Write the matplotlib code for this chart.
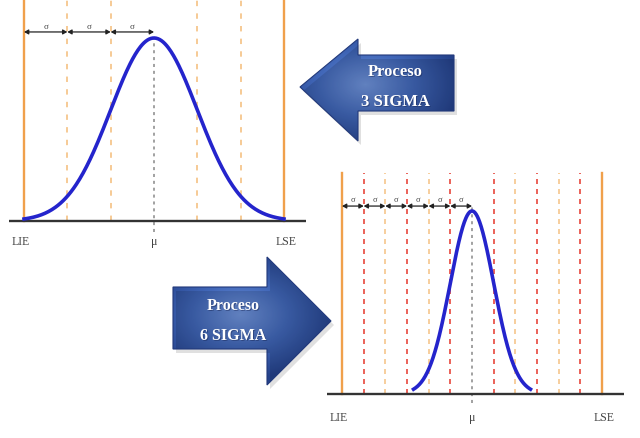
#!/usr/bin/env python3
import numpy as np
import matplotlib
matplotlib.use("Agg")
import matplotlib.pyplot as plt
from matplotlib.patches import Polygon

# spec limits, in tolerance units (both panels share them)
LIE, LSE = -3.0, 3.0
# sigma of each process in the same units
SIGMA_3 = 1.0   # proceso 3 sigma -> limits at +-3 sigma
SIGMA_6 = 0.5   # proceso 6 sigma -> limits at +-6 sigma
# dashed guide lines, in multiples of sigma
GUIDES_3 = [-2, -1, 1, 2]
GUIDES_6_RED = [-5, -3, -1, 1, 3, 5]
GUIDES_6_LIGHT = [-4, -2, 2, 4]
# sigma steps marked with arrows (from LIE to the mean)
STEPS_3 = [-3, -2, -1, 0]
STEPS_6 = [-6, -5, -4, -3, -2, -1, 0]
# curve drawn out to +- this many sigma
CURVE_SPAN_3 = 3.0
CURVE_SPAN_6 = 2.7
AXIS_LABELS = ["LIE", "\u03bc", "LSE"]
ARROW_TEXT_3 = ["Proceso", "3 SIGMA"]
ARROW_TEXT_6 = ["Proceso", "6 SIGMA"]

W, H = 640, 439
SX, SY = 43.33, 183.0          # px per unit
XLIM = (-3.35, 3.5)
YLIM = (-0.24, 1.22)

ORANGE = "#f0a04b"
LIGHT = "#f6c68c"
RED = "#e8473c"
BLUE = "#2424cc"
SERIF = ["Liberation Serif", "DejaVu Serif"]

fig = plt.figure(figsize=(W / 100, H / 100), dpi=100)


def panel(mu_px, base_px):
    left = mu_px + XLIM[0] * SX
    top = base_px - YLIM[1] * SY
    w = (XLIM[1] - XLIM[0]) * SX
    h = (YLIM[1] - YLIM[0]) * SY
    ax = fig.add_axes([left / W, 1 - (top + h) / H, w / W, h / H])
    ax.set_xlim(*XLIM)
    ax.set_ylim(*YLIM)
    ax.axis("off")
    return ax


def draw_steps(ax, steps, sigma, y, ytxt, fs):
    for a, b in zip(steps[:-1], steps[1:]):
        ax.annotate("", xy=(b * sigma, y), xytext=(a * sigma, y),
                    arrowprops=dict(arrowstyle="<|-|>,head_length=0.25,head_width=0.14",
                                    color="#222222", lw=0.9, shrinkA=0, shrinkB=0))
        ax.text((a + b) / 2 * sigma, ytxt, "\u03c3", ha="center", va="bottom",
                fontsize=fs, color="#444444", family=SERIF)


def draw_common(ax, sigma, span, y_line_top, center_top, center_bot, ylab):
    ax.plot([LIE, LIE], [0, y_line_top], color=ORANGE, lw=1.7, zorder=2)
    ax.plot([LSE, LSE], [0, y_line_top], color=ORANGE, lw=1.7, zorder=2)
    ax.plot([0, 0], [center_bot, center_top], color="#888888", lw=1.1,
            ls=(0, (2, 2.5)), zorder=2)
    x = np.linspace(-span * sigma, span * sigma, 300)
    ax.plot(x, np.exp(-0.5 * (x / sigma) ** 2), color=BLUE, lw=2.6, zorder=4)
    ax.plot([XLIM[0], XLIM[1] - 0.02], [0, 0], color="#333333", lw=1.7, zorder=3)
    for xx, lab in zip([LIE - 0.08, 0, LSE + 0.05], AXIS_LABELS):
        ax.text(xx, ylab, lab, ha="center", va="center", fontsize=8.5,
                color="#444444", family=SERIF)


# --- proceso 3 sigma (top left) ---
ax1 = panel(154, 222)
for k in GUIDES_3:
    ax1.plot([k * SIGMA_3] * 2, [0, 1.22], color=LIGHT, lw=1.3, ls=(0, (3, 4)), zorder=1)
draw_common(ax1, SIGMA_3, CURVE_SPAN_3, 1.22, 1.0, -0.06, -0.11)
draw_steps(ax1, STEPS_3, SIGMA_3, 1.033, 1.045, 6.5)

# --- proceso 6 sigma (bottom right) ---
ax2 = panel(472, 395)
for k in GUIDES_6_RED:
    ax2.plot([k * SIGMA_6] * 2, [0, 1.21], color=RED, lw=1.2, ls=(0, (3, 3)), zorder=1)
for k in GUIDES_6_LIGHT:
    ax2.plot([k * SIGMA_6] * 2, [0, 1.21], color=LIGHT, lw=1.2, ls=(0, (3, 3)), zorder=1)
draw_common(ax2, SIGMA_6, CURVE_SPAN_6, 1.21, 1.02, -0.05, -0.125)
draw_steps(ax2, STEPS_6, SIGMA_6, 1.027, 1.045, 6)

# --- block arrows (pixel coordinates) ---
ov = fig.add_axes([0, 0, 1, 1], zorder=-1)
ov.set_xlim(0, W)
ov.set_ylim(H, 0)
ov.axis("off")

yy, xx = np.mgrid[0:H, 0:W]
cmap = matplotlib.colors.LinearSegmentedColormap.from_list(
    "bl", ["#6f93da", "#4167b8", "#24418a"])


def block_arrow(pts, cx, cy, text, tx, ty, fs):
    shadow = Polygon(np.array(pts) + [3, 4], closed=True, fc="#000000", alpha=0.12, ec="none")
    ov.add_patch(shadow)
    poly = Polygon(pts, closed=True, fc="none", ec="#22397a", lw=0.8)
    ov.add_patch(poly)
    r = np.sqrt(((xx - cx) / 95.0) ** 2 + ((yy - cy) / 65.0) ** 2)
    im = ov.imshow(np.clip(r, 0, 1), cmap=cmap, extent=(0, W, H, 0),
                   vmin=0, vmax=1, interpolation="bilinear")
    im.set_clip_path(poly)
    for i, t in enumerate(text):
        ov.text(tx + 1, ty + i * 30 + 1, t, ha="center", va="center", color="#1a2a5a",
                alpha=0.5, fontsize=fs, fontweight="bold", family=SERIF)
        ov.text(tx, ty + i * 30, t, ha="center", va="center", color="white",
                fontsize=fs, fontweight="bold", family=SERIF)


block_arrow([(300, 88), (358, 40), (358, 56), (454, 56), (454, 112), (358, 112), (358, 142)],
            365, 85, ARROW_TEXT_3, 395, 72, 12)
block_arrow([(173, 288), (267, 288), (267, 258), (331, 322), (267, 386), (267, 350), (173, 350)],
            240, 315, ARROW_TEXT_6, 233, 306, 11.5)

fig.savefig("out.png", dpi=100)
